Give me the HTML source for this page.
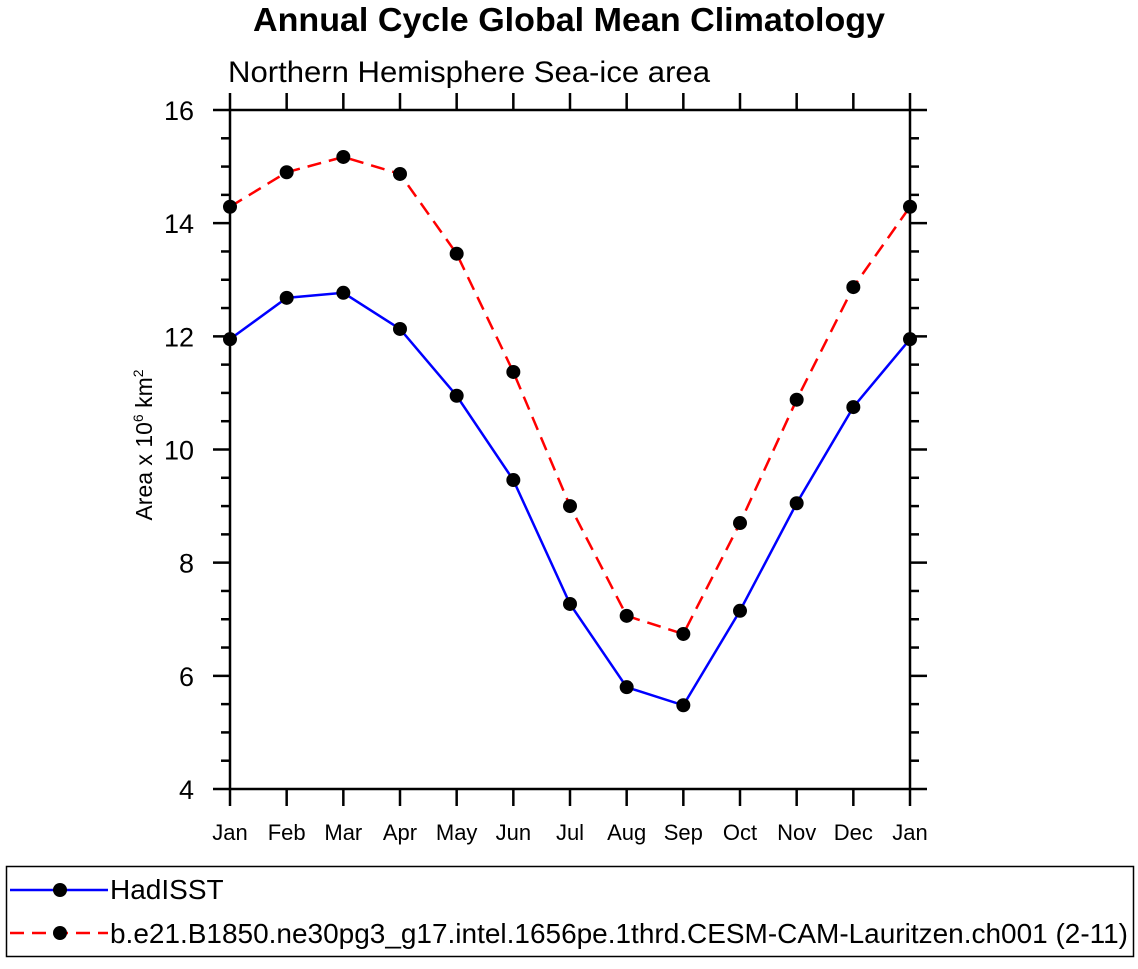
<!DOCTYPE html>
<html><head><meta charset="utf-8"><style>
body{margin:0;background:#fff;}
svg text{font-family:"Liberation Sans",Helvetica,sans-serif;fill:#000;}
</style></head><body>
<svg id="chart" width="1138" height="964" viewBox="0 0 1138 964" xmlns="http://www.w3.org/2000/svg">
<text x="569" y="31" text-anchor="middle" font-size="33" font-weight="bold" textLength="632" lengthAdjust="spacingAndGlyphs">Annual Cycle Global Mean Climatology</text>
<text x="228" y="82" font-size="30" textLength="482" lengthAdjust="spacingAndGlyphs">Northern Hemisphere Sea-ice area</text>
<text transform="translate(152,445) rotate(-90)" text-anchor="middle" font-size="23">Area x 10<tspan dy="-9" font-size="14">6</tspan><tspan dy="9"> km</tspan><tspan dy="-9" font-size="14">2</tspan></text>
<g id="axes"></g>
<g id="series"></g>
<g>
<rect x="6.5" y="866.5" width="1127" height="90" fill="none" stroke="#000" stroke-width="1.5"/>
<line x1="10" y1="890" x2="108" y2="890" stroke="#0000ff" stroke-width="2.5"/>
<circle cx="60" cy="890" r="7" fill="#000"/>
<text x="110" y="899" font-size="28">HadISST</text>
<line x1="10" y1="933" x2="108" y2="933" stroke="#ff0000" stroke-width="2.5" stroke-dasharray="14,8"/>
<circle cx="60" cy="933" r="7" fill="#000"/>
<text x="110" y="943" font-size="28" textLength="1018" lengthAdjust="spacingAndGlyphs">b.e21.B1850.ne30pg3_g17.intel.1656pe.1thrd.CESM-CAM-Lauritzen.ch001 (2-11)</text>
</g>
</svg>
<script>
const months=["Jan","Feb","Mar","Apr","May","Jun","Jul","Aug","Sep","Oct","Nov","Dec","Jan"];
const hadisst=[11.95,12.68,12.77,12.13,10.95,9.46,7.27,5.80,5.48,7.15,9.05,10.75,11.95];
const cesm=[14.29,14.90,15.17,14.87,13.46,11.37,9.0,7.06,6.74,8.70,10.88,12.87,14.29];
const yTicks=[4,6,8,10,12,14,16];
const NS="http://www.w3.org/2000/svg";
const L=230,R=910,T=110,B=789,ymin=4,ymax=16;
const xs=i=>L+(R-L)*i/(months.length-1);
const ys=v=>B-(B-T)*(v-ymin)/(ymax-ymin);
function mk(tag,attrs,parent){const e=document.createElementNS(NS,tag);for(const k in attrs)e.setAttribute(k,attrs[k]);parent.appendChild(e);return e;}
const ax=document.getElementById('axes');
const frame=mk('rect',{x:L,y:T,width:R-L,height:B-T,fill:'none',stroke:'#000','stroke-width':2.5},ax);


months.forEach((m,i)=>{
  const x=xs(i);
  mk('line',{x1:x,y1:B,x2:x,y2:B+17,stroke:'#000','stroke-width':2.5},ax);
  mk('line',{x1:x,y1:T,x2:x,y2:T-17,stroke:'#000','stroke-width':2.5},ax);
  const t=mk('text',{x:x,y:B+51,'text-anchor':'middle','font-size':22},ax);
  t.textContent=m;
  
  
});
for(let v=ymin;v<=ymax+1e-9;v+=0.5){
  const y=ys(v);const major=Math.abs(v-Math.round(v/2)*2)<1e-9;
  const len=major?17:9;
  mk('line',{x1:L,y1:y,x2:L-len,y2:y,stroke:'#000','stroke-width':2.5},ax);
  mk('line',{x1:R,y1:y,x2:R+len,y2:y,stroke:'#000','stroke-width':2.5},ax);
}
yTicks.forEach(v=>{
  const t=mk('text',{x:194,y:ys(v)+10,'text-anchor':'end','font-size':27},ax);
  t.textContent=v;
  
  
});
const sg=document.getElementById('series');
function series(data,color,dash,name){
  const g=mk('g',{},sg);
  
  
  const pts=data.map((v,i)=>xs(i)+','+ys(v)).join(' ');
  const a={points:pts,fill:'none',stroke:color,'stroke-width':2.5};
  if(dash)a['stroke-dasharray']=dash;
  mk('polyline',a,g);
  data.forEach((v,i)=>{
    const c=mk('circle',{cx:xs(i),cy:ys(v),r:7,fill:'#000'},g);
    
    
  });
}
series(hadisst,'#0000ff',null,'hadisst-series');
series(cesm,'#ff0000','14,8','cesm-series');
</script>
</body></html>
